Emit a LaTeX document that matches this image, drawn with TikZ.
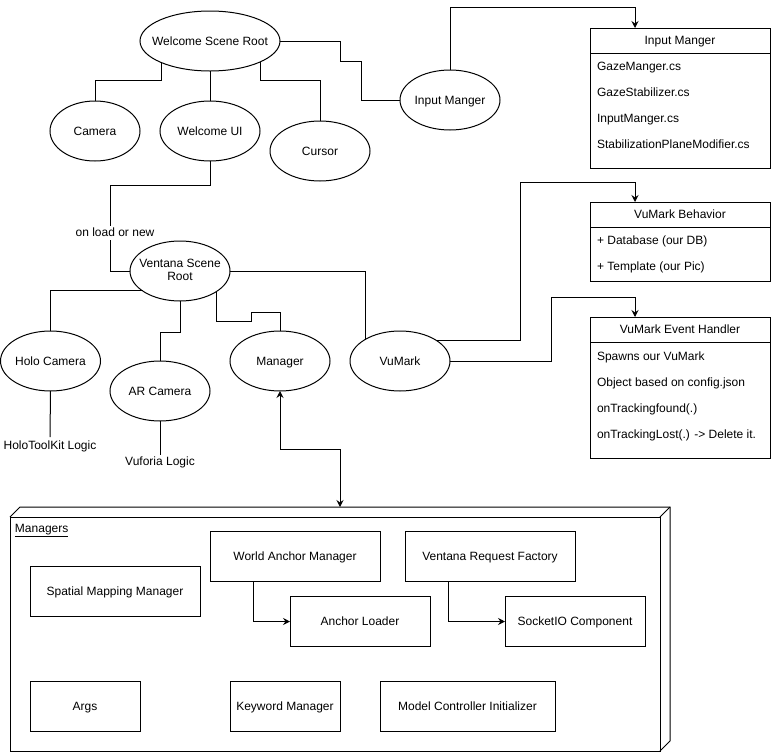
\documentclass[tikz,border=0pt]{standalone}
\usepackage{fontspec}
\setmainfont{Liberation Sans}
\usetikzlibrary{shapes.geometric,arrows.meta}
\newcommand{\zw}[1]{\makebox[0pt]{#1}}
\begin{document}
\begin{tikzpicture}[x=1pt,y=-1pt,
  every node/.style={font=\fontsize{12}{14}\selectfont, outer sep=0pt},
  txt/.style={text height=8.6pt, text depth=0pt},
  ell/.style={ellipse, draw, line width=1pt, minimum width=100pt, minimum height=60pt, inner sep=0pt, txt},
  ell2/.style={ellipse, draw, line width=1pt, minimum width=100pt, minimum height=60pt, inner sep=0pt},
  box/.style={rectangle, draw, line width=1pt, minimum height=50pt, inner sep=0pt, txt},
  frame/.style={rectangle, draw, line width=1pt, inner sep=0pt, anchor=north west, minimum width=180pt},
  plain/.style={inner sep=0pt, txt},
  row/.style={anchor=west, inner sep=0pt, txt},
  conn/.style={draw, line width=1pt},
  tip/.tip={Stealth[length=7pt,width=7pt,inset=2.5pt]},
  arr/.style={conn, -tip},
]
\useasboundingbox (0,0) rectangle (772,753);

% ---------- welcome scene ----------
\node[ell, minimum width=140pt] (wsr) at (210,41) {\zw{Welcome Scene Root}};
\node[ell, minimum width=90pt] (cam) at (95,131) {\zw{Camera}};
\node[ell] (wui) at (210,131) {\zw{Welcome UI}};
\node[ell] (cur) at (320,151) {\zw{Cursor}};
\node[ell] (im) at (450,100) {\zw{Input Manger}};

% ---------- ventana scene ----------
\node[ell2] (vsr) at (180,271) {\zw{\begin{tabular}{@{}c@{}}Ventana Scene\\[-1pt]Root\end{tabular}}};
\node[ell] (holo) at (50.5,361) {\zw{Holo Camera}};
\node[ell] (arc) at (160,391) {\zw{AR Camera}};
\node[ell] (mgr) at (280,361) {\zw{Manager}};
\node[ell] (vum) at (400,361) {\zw{VuMark}};
\node[plain] (htk) at (50,445) {HoloToolKit Logic};
\node[plain] (vfl) at (160,461) {Vuforia Logic};

% ---------- class boxes ----------
\node[frame, minimum height=140pt] (imbox) at (590,28) {};
\draw[conn] ([yshift=-25pt]imbox.north west) -- ([yshift=-25pt]imbox.north east);
\node[plain] (imt) at ([yshift=-12.5pt]imbox.north) {Input Manger};
\node[row] (im1) at (597,66) {GazeManger.cs};
\node[row] (im2) at (597,92) {GazeStabilizer.cs};
\node[row] (im3) at (597,118) {InputManger.cs};
\node[row] (im4) at (597,144) {StabilizationPlaneModifier.cs};

\node[frame, minimum height=79pt] (vb) at (590,202) {};
\draw[conn] ([yshift=-25pt]vb.north west) -- ([yshift=-25pt]vb.north east);
\node[plain] (vbt) at ([yshift=-12.5pt]vb.north) {VuMark Behavior};
\node[row] (vb1) at (597,240) {+ Database (our DB)};
\node[row] (vb2) at (597,266) {+ Template (our Pic)};

\node[frame, minimum height=141pt] (veh) at (590,317) {};
\draw[conn] ([yshift=-25pt]veh.north west) -- ([yshift=-25pt]veh.north east);
\node[plain] (veht) at ([yshift=-12.5pt]veh.north) {VuMark Event Handler};
\node[row] (veh1) at (597,356) {Spawns our VuMark};
\node[row] (veh2) at (597,382) {Object based on config.json};
\node[row] (veh3) at (597,408) {onTrackingfound(.)};
\node[row] (veh4) at (597,434) {onTrackingLost(.) -> Delete it.};

% ---------- managers 3D box ----------
\node[rectangle, draw, line width=1pt, anchor=north west, minimum width=650pt, minimum height=234pt, inner sep=0pt] (mgrs) at (10,517) {};
\draw[conn, line join=miter] (mgrs.north west) -- ++(10,-10) -| ([shift={(10pt,10pt)}]mgrs.south east) -- (mgrs.south east);
\draw[conn] (mgrs.north east) -- ++(10,-10);
\coordinate (mgrtop) at ([shift={(330pt,10pt)}]mgrs.north west);
\node[anchor=base west, inner sep=0pt] (mgrslbl) at (15,532) {\underline{Managers}};

\node[box, minimum width=170pt] (wam) at (295,556.5) {World Anchor Manager};
\node[box, minimum width=170pt] (smm) at (115,591.5) {Spatial Mapping Manager};
\node[box, minimum width=140pt] (al) at (360,621.5) {Anchor Loader};
\node[box, minimum width=170pt] (vrf) at (490,556.5) {Ventana Request Factory};
\node[box, minimum width=140pt] (sio) at (575,621.5) {SocketIO Component};
\node[box, minimum width=110pt] (args) at (85,706.5) {Args};
\node[box, minimum width=110pt] (kwm) at (285,706.5) {Keyword Manager};
\node[box, minimum width=175pt] (mci) at (467.5,706.5) {Model Controller Initializer};

% ---------- connectors ----------
\draw[conn] (wsr.204.4) -- ++(0,18.2) -| (cam.north);
\draw[conn] (wsr.south) -- (wui.north);
\draw[conn] (wsr.-22.8) -- ++(0,19) -| (cur.north);
\draw[conn] (wsr.east) -- ++(60,0) -- ++(0,20) -- ++(21,0) |- (im.west);
\draw[arr] (im.north) -- ++(0,-63) -| ([xshift=45pt]imbox.north west);

\draw[conn] (wui.south) -- ++(0,24) -- ++(-100,0) |- (vsr.west);
\node[fill=white, inner sep=1pt, text height=8.6pt, text depth=2.6pt] (lblload) at (115,233) {on load or new};

\draw[conn] (vsr.208.6) -| (holo.north);
\draw[conn] (vsr.south) -- ++(0,31) -| (arc.north);
\draw[conn] (vsr.-30) -- ++(0,29.2) -- ++(35,0) -- ++(0,-9) -| (mgr.north);
\draw[conn] (vsr.east) -| (vum.148.6);

\draw[arr] (vum.30.5) -| (520,182) -| ([xshift=45pt]vb.north west);
\draw[arr] (vum.east) -| (551,297) -| ([xshift=45pt]veh.north west);

\draw[conn] (holo.south) -- ([yshift=8pt]htk.center);
\draw[conn] (arc.south) -- ([yshift=6pt]vfl.center);

\draw[conn, tip-tip] (mgr.south) -- ++(0,58) -| (mgrtop);

\draw[arr] ([xshift=43pt]wam.south west) |- (al.west);
\draw[arr] ([xshift=43pt]vrf.south west) |- (sio.west);
\end{tikzpicture}
\end{document}
